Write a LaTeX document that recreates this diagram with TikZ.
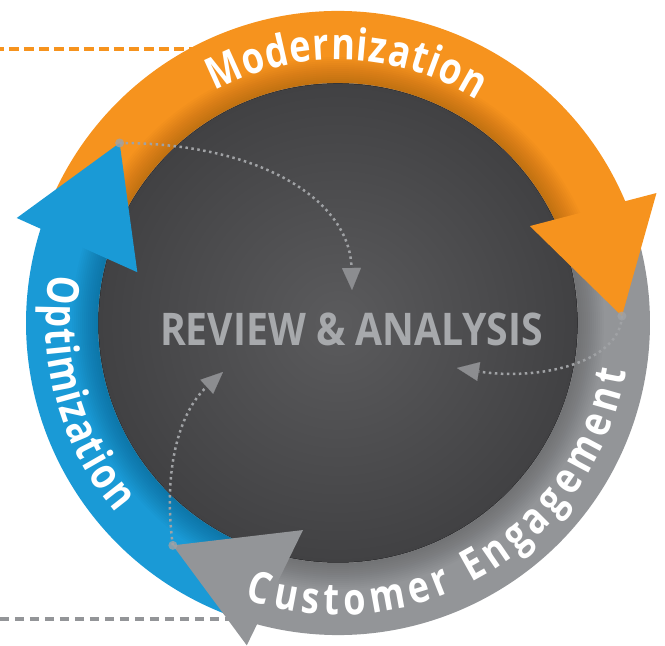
\documentclass[tikz,border=0pt]{standalone}
\usepackage{fontspec}
\usetikzlibrary{arrows.meta,decorations.text}

\newfontfamily\ringfont[FakeStretch=0.82]{Open Sans}
\newfontfamily\hubfont[FakeStretch=0.87]{Open Sans}
\newcommand\ringtype{\ringfont\bfseries\fontsize{44}{48}\selectfont}
\newcommand\engtype{\ringfont\bfseries\fontsize{44}{48}\selectfont}

\definecolor{modorange}{HTML}{F6931E}
\definecolor{optblue}{HTML}{1A9AD6}
\definecolor{enggray}{HTML}{939598}
\definecolor{discin}{HTML}{5B5B5D}
\definecolor{discout}{HTML}{414143}
\definecolor{hubtext}{HTML}{A7A9AC}
\definecolor{dotgray}{HTML}{A0A2A5}
\definecolor{tipgray}{HTML}{8C8D90}

\tikzset{
disc/.style={inner color=discin, outer color=discout},
modarrow/.style={fill=modorange},
engarrow/.style={fill=enggray},
optarrow/.style={fill=optblue},
rimshade/.style={fill=black, fill opacity=.015, even odd rule},
modlead/.style={draw=modorange, line width=4pt, dash pattern=on 10pt off 5pt, dash phase=6pt},
englead/.style={draw=enggray, line width=3.5pt, dash pattern=on 9pt off 6pt},
ringlabel/.style={
  decorate,
  decoration={text along path, text color=white, text align={fit to path}},
},
hub/.style={
  font=\hubfont\bfseries\fontsize{45}{45}\selectfont,
  text=hubtext,
  inner sep=0pt,
},
feedback/.style={
  draw=dotgray,
  line width=2.5pt,
  dash pattern=on 2.5pt off 3.5pt,
  -{Triangle[length=22pt,width=19pt,color=tipgray,line width=0.1pt]},
},
startdot/.style={fill=dotgray, fill opacity=.8},
}

\begin{document}
\begin{tikzpicture}[x=1pt,y=1pt]
\useasboundingbox (-338,-323) rectangle (327,323);

                  % leader lines
\coordinate (mod-lead-a) at (-338,274);
\coordinate (mod-lead-b) at (-140,274);
\coordinate (eng-lead-a) at (-338,-296);
\coordinate (eng-lead-b) at (-108,-296);
\draw[modlead] (mod-lead-a) -- (mod-lead-b);
\draw[englead] (eng-lead-a) -- (eng-lead-b);

                  % centre disc
\shade[disc] (0,0) circle (240);

                  % shafts
\fill[modarrow] (158:240) arc[start angle=158, end angle=22.2, radius=240]
  -- (22.2:312) arc[start angle=22.2, end angle=158, radius=312] -- cycle;
\fill[engarrow] (20:240) arc[start angle=20, end angle=-105.8, radius=240]
  -- (-105.8:312) arc[start angle=-105.8, end angle=20, radius=312] -- cycle;
\fill[optarrow] (252.2:240) arc[start angle=252.2, end angle=161.9, radius=240]
  -- (161.9:312) arc[start angle=161.9, end angle=252.2, radius=312] -- cycle;
% shadow of the disc on the ring
\foreach \r in {242,244,...,266}
  \fill[rimshade] (0,0) circle (239.5) (0,0) circle (\r);

                  % heads
\coordinate (mod-tip) at (1.4:284);
\coordinate (eng-tip) at (-126.6:277);
\coordinate (opt-tip) at (140.5:283);
\fill[modarrow] (26.8:215) -- (22.2:344) -- (mod-tip) -- cycle;
\fill[engarrow] (-99.6:210) -- (-105.8:335) -- (eng-tip) -- cycle;
\fill[optarrow] (165.8:207) -- (161.9:338) -- (opt-tip) -- cycle;

                  % labels
\path[ringlabel, decoration={text={|\ringtype|Modernization}}]
  (118:263) arc[start angle=118, end angle=58, radius=263];
\path[ringlabel, decoration={text={|\ringtype|Optimization}}]
  (170.5:292) arc[start angle=170.5, end angle=220.5, radius=292];
\path[ringlabel, decoration={text={|\engtype|Customer Engagement}}]
  (251.4:292) arc[start angle=251.4, end angle=350.5, radius=292];

\node[hub] (hub) at (13.5,-6) {REVIEW \& ANALYSIS};

                  % feedback into the hub
\coordinate (opt-in) at (14,33);
\coordinate (mod-in) at (119,-45);
\coordinate (eng-in) at (-115,-49);
\draw[feedback] (opt-tip) .. controls (-78,180) and (12,123) .. (opt-in);
\draw[feedback] (mod-tip) .. controls (282,-40) and (200,-58) .. (mod-in);
\draw[feedback] (eng-tip) .. controls (-175,-150) and (-160,-90) .. (eng-in);
\fill[startdot] (opt-tip) circle (4.5);
\fill[startdot] (mod-tip) circle (4.5);
\fill[startdot] (eng-tip) circle (4.5);
\end{tikzpicture}
\end{document}
